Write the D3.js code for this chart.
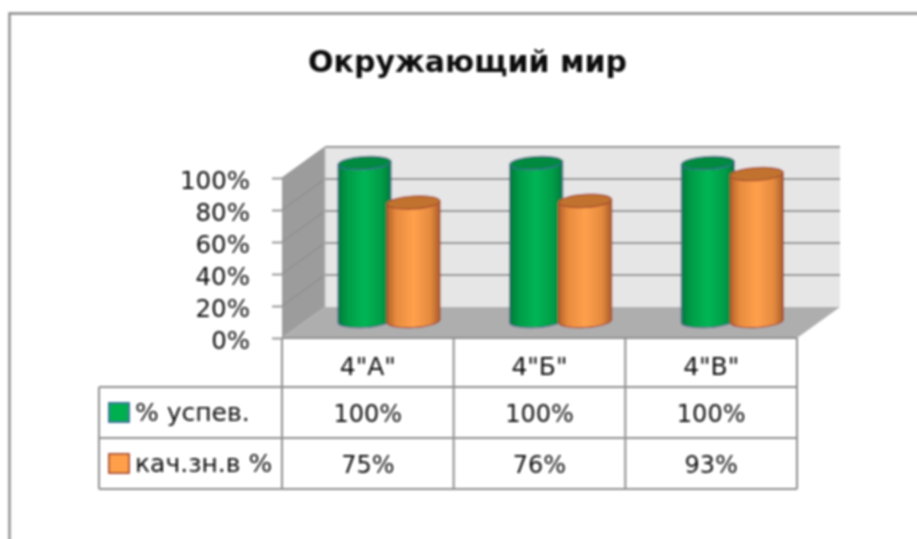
<!DOCTYPE html>
<html>
<head>
<meta charset="utf-8">
<script src="https://cdn.jsdelivr.net/npm/d3@7"></script>
<style>
  body { margin: 0; background: #fff; overflow: hidden; }
  text { font-family: "DejaVu Sans", sans-serif; fill: #111; }
</style>
</head>
<body>
<script>
var title = "Окружающий мир";
var categories = ['4"А"', '4"Б"', '4"В"'];
var seriesNames = ["% успев.", "кач.зн.в %"];
var uspev = [100, 100, 100];
var kach = [75, 76, 93];
var yTicks = [0, 20, 40, 60, 80, 100];

var width = 917, height = 539;
var plot = {left: 282, right: 797, top: 178, bottom: 338};
var depth = {x: 43, y: -31};
var rows = [338, 387, 438, 489];
var tableLeft = 99;

var colors = [
  {stops: ["#007a3c", "#009c47", "#00b654", "#009c47", "#007a3c"], swatch: "#00b050", top: "#008a40", edge: "#2f6a8f"},
  {stops: ["#b5622a", "#e88c3e", "#ffa04c", "#e48a3e", "#a85c2a"], swatch: "#ff9f4a", top: "#c0722f", edge: "#a8482f"}
];

var x0 = d3.scaleBand().domain(categories).range([plot.left, plot.right]);
var x1 = d3.scaleBand().domain(seriesNames).range([58, 156]);
var y = d3.scaleLinear().domain([0, 100]).range([plot.bottom, plot.top]);
// the cylinders stand inside the box, half way back
var yBar = d3.scaleLinear().domain([0, 100]).range([321, 163]);

var svg = d3.select("body").append("svg")
    .attr("width", width)
    .attr("height", height)
    .style("display", "block");

var defs = svg.append("defs");
defs.append("filter").attr("id", "soft")
    .attr("filterUnits", "userSpaceOnUse")
    .attr("x", 0).attr("y", 0).attr("width", width).attr("height", height)
  .append("feGaussianBlur").attr("stdDeviation", 0.8);

colors.forEach(function(c, i) {
  var g = defs.append("linearGradient").attr("id", "cyl" + i);
  [0, 18, 50, 82, 100].forEach(function(o, j) {
    g.append("stop").attr("offset", o + "%").attr("stop-color", c.stops[j]);
  });
});

var root = svg.append("g").attr("filter", "url(#soft)");

// outer frame of the picture
root.append("path")
    .attr("d", "M9.5," + (height + 10) + "V13.5H" + (width + 10))
    .attr("fill", "none")
    .attr("stroke", "#8c8c8c")
    .attr("stroke-width", 2.4);

root.append("text")
    .attr("x", 467.5)
    .attr("y", 72)
    .attr("text-anchor", "middle")
    .style("font-size", "30px")
    .style("font-weight", "bold")
    .text(title);

// box: back wall, left wall, floor
var box = root.append("g");
var line = "#8f8f8f";
box.append("rect")
    .attr("x", plot.left + depth.x).attr("y", plot.top + depth.y)
    .attr("width", plot.right - plot.left).attr("height", plot.bottom - plot.top)
    .attr("fill", "#e6e6e6");
box.append("path")
    .attr("d", d3.line()([[plot.left, plot.top], [plot.left + depth.x, plot.top + depth.y],
      [plot.left + depth.x, plot.bottom + depth.y], [plot.left, plot.bottom]]) + "Z")
    .attr("fill", "#9c9c9c");
box.append("path")
    .attr("d", d3.line()([[plot.left, plot.bottom], [plot.left + depth.x, plot.bottom + depth.y],
      [plot.right + depth.x, plot.bottom + depth.y], [plot.right, plot.bottom]]) + "Z")
    .attr("fill", "#aeaeae");

box.selectAll("path.grid")
    .data(yTicks.filter(function(d) { return d > 0; }))
  .enter().append("path")
    .attr("class", "grid")
    .attr("fill", "none")
    .attr("stroke", line)
    .attr("stroke-width", 1.8)
    .attr("d", function(d) {
      return d3.line()([[plot.left + depth.x, y(d) + depth.y], [plot.right + depth.x, y(d) + depth.y]]);
    });
// fainter lines across the left wall
box.selectAll("path.wall")
    .data(yTicks.filter(function(d) { return d > 0; }))
  .enter().append("path")
    .attr("class", "wall")
    .attr("fill", "none")
    .attr("stroke", "#868686")
    .attr("stroke-width", 1)
    .attr("d", function(d) {
      return d3.line()([[plot.left, y(d)], [plot.left + depth.x, y(d) + depth.y]]);
    });
box.append("path")
    .attr("d", d3.line()([[plot.left + depth.x, plot.top + depth.y], [plot.left + depth.x, plot.bottom + depth.y]]))
    .attr("stroke", "#b8b8b8")
    .attr("stroke-width", 1);

// y axis
var yAxis = d3.axisLeft(y)
    .tickValues(yTicks)
    .tickSize(10)
    .tickPadding(22)
    .tickFormat(function(d) { return d + "%"; });

var yG = root.append("g")
    .attr("transform", "translate(" + plot.left + ",0)")
    .call(yAxis);
yG.select(".domain").remove();
yG.selectAll(".tick line").attr("stroke", line).attr("stroke-width", 1.8);
yG.selectAll(".tick text")
    .attr("fill", "#111")
    .attr("dy", "0.42em")
    .style("font-size", "24.5px")
    .style("font-family", '"DejaVu Sans", sans-serif');

// cylinders, slightly tilted like the 3d original
var rx = 26.5, ry = 6.5, tilt = -3.5;
var dy = rx * Math.sin(-tilt * Math.PI / 180);
function cylinder(sel, xc, v, i) {
  var top = yBar(v), bot = yBar(0), c = colors[i];
  sel.append("path")
      .attr("d", "M" + (xc - rx) + "," + (top + dy) + "L" + (xc - rx) + "," + (bot + dy) +
        "A" + rx + "," + ry + " " + tilt + " 0 0 " + (xc + rx) + "," + (bot - dy) +
        "L" + (xc + rx) + "," + (top - dy) + "Z")
      .attr("fill", "url(#cyl" + i + ")")
      .attr("stroke", c.edge)
      .attr("stroke-width", 1.2);
  sel.append("ellipse")
      .attr("cx", xc).attr("cy", top)
      .attr("rx", rx).attr("ry", ry)
      .attr("transform", "rotate(" + tilt + " " + xc + " " + top + ")")
      .attr("fill", c.top)
      .attr("stroke", c.edge)
      .attr("stroke-width", 1.2);
}

var bars = root.append("g");
categories.forEach(function(cat, k) {
  [uspev, kach].forEach(function(vals, i) {
    var xc = x0(cat) + x1(seriesNames[i]) + x1.bandwidth() / 2;
    cylinder(bars.append("g"), xc, vals[k], i);
  });
});

// data table
var table = root.append("g")
    .attr("fill", "none")
    .attr("stroke", line)
    .attr("stroke-width", 2);
var colEdges = [plot.left].concat(categories.map(function(c) { return x0(c) + x0.bandwidth(); }));
colEdges.forEach(function(xv, i) {
  table.append("path").attr("d", d3.line()([[xv, rows[0]], [xv, rows[3]]]));
});
table.append("path").attr("d", d3.line()([[plot.left, rows[0]], [plot.right, rows[0]]]));
rows.slice(1).forEach(function(r) {
  table.append("path").attr("d", d3.line()([[tableLeft, r], [plot.right, r]]));
});
table.append("path").attr("d", d3.line()([[tableLeft, rows[1]], [tableLeft, rows[3]]]));

function cell(xv, yv, s, anchor, size) {
  root.append("text")
      .attr("x", xv).attr("y", yv)
      .attr("text-anchor", anchor || "middle")
      .style("font-size", (size || 24) + "px")
      .text(s);
}
categories.forEach(function(cat, k) {
  var xc = x0(cat) + x0.bandwidth() / 2;
  cell(xc, 375, cat, "middle", 25);
  cell(xc, 422, uspev[k] + "%");
  cell(xc, 473, kach[k] + "%");
});

seriesNames.forEach(function(name, i) {
  var rowY = [421, 472][i];
  root.append("rect")
      .attr("x", 109).attr("y", rowY - 18)
      .attr("width", 20).attr("height", 19)
      .attr("fill", colors[i].swatch)
      .attr("stroke", colors[i].edge)
      .attr("stroke-width", 1.8);
  cell(135, rowY, name, "start", 25);
});
</script>
</body>
</html>
